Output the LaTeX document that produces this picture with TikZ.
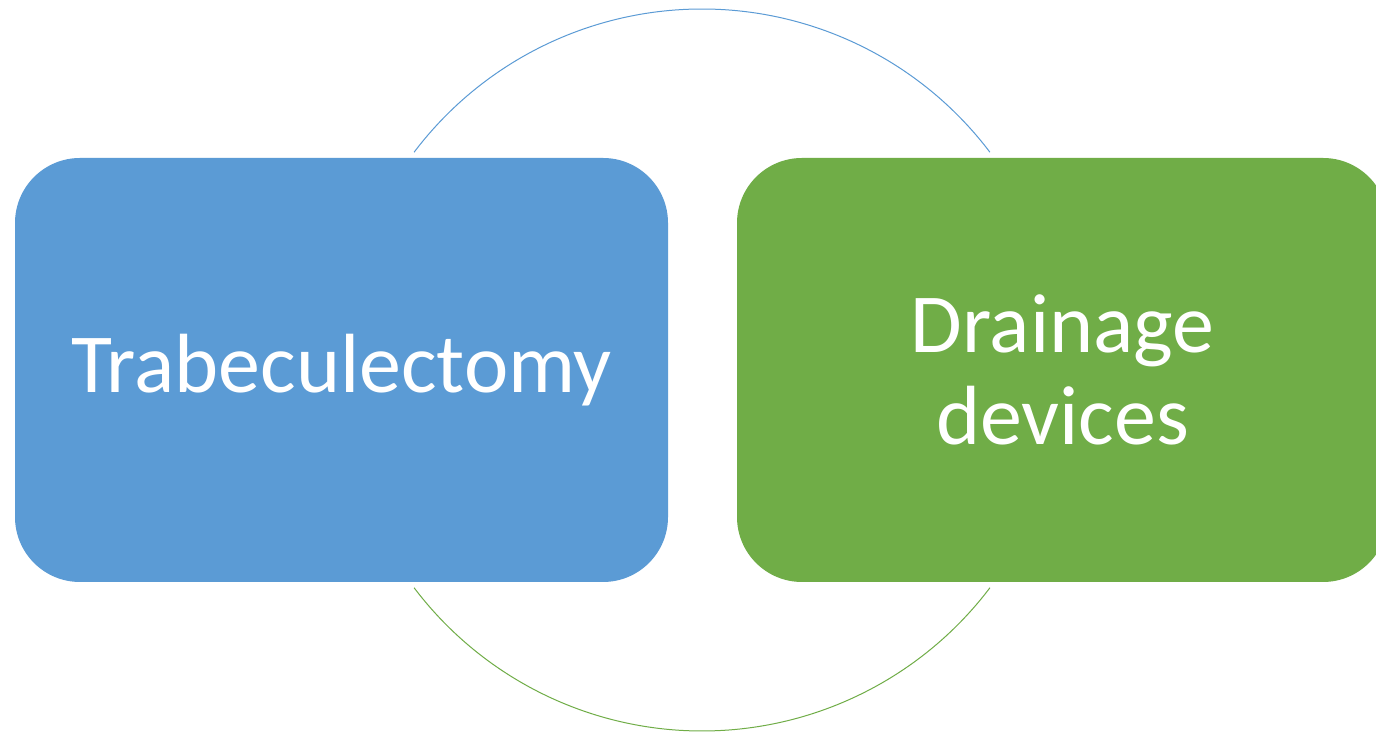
\documentclass[tikz,border=0pt]{standalone}
\usepackage{fontspec}
\setmainfont{Carlito}
\definecolor{boxblue}{HTML}{5B9BD5}
\definecolor{boxgreen}{HTML}{70AD47}
\begin{document}
\begin{tikzpicture}[x=1pt,y=1pt,
  stagebox/.style={rounded corners=65pt,minimum height=424pt,align=center,
    text=white,font=\fontsize{84}{92}\selectfont,inner sep=0pt}]
\clip (0,0) rectangle (1376,733);
\fill[white] (0,0) rectangle (1376,733);
\coordinate (hub) at (702,363);

\draw[boxblue, line width=1pt] ([shift={(142.9:361)}]hub) arc[start angle=142.9, end angle=37.1, radius=361];
\draw[boxgreen, line width=1pt] ([shift={(-37.1:361)}]hub) arc[start angle=-37.1, end angle=-142.9, radius=361];

\node[stagebox, fill=boxblue, minimum width=653pt] (trab) at (341.5,363) {Trabeculectomy};
\node[stagebox, fill=boxgreen, minimum width=651pt] (drain) at (1062.5,363) {Drainage\\devices};
\end{tikzpicture}
\end{document}
